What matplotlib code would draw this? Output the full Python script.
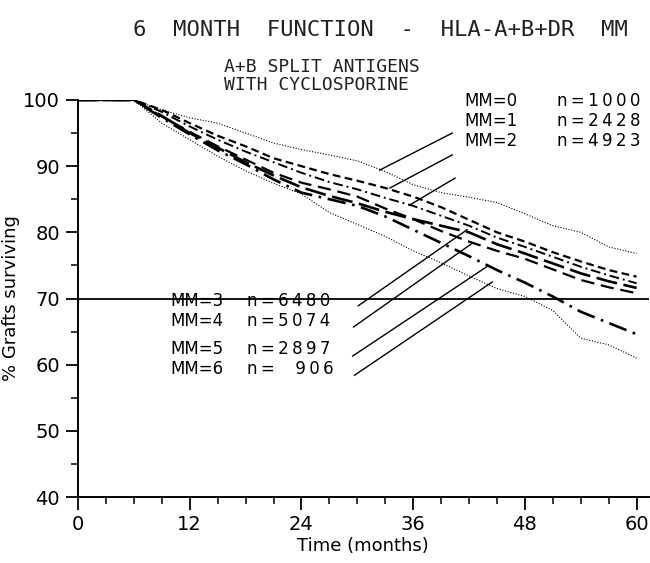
import matplotlib
matplotlib.use("Agg")
import matplotlib.pyplot as plt
import numpy as np

months = [0, 6, 9, 12, 15, 18, 21, 24, 27, 30, 33, 36, 39, 42, 45, 48, 51, 54, 57, 60]

# % grafts surviving, one list per number of HLA mismatches
mm0 = [100, 100, 98.5, 97.3, 96.5, 95.0, 93.5, 92.5, 91.7, 90.8, 89.2, 87.2, 86.0, 85.3, 84.5, 82.8, 81.0, 80.0, 77.8, 76.8]
mm1 = [100, 100, 98.5, 96.5, 94.6, 93.0, 91.2, 90.0, 88.8, 87.8, 86.7, 85.4, 83.8, 81.9, 80.0, 78.6, 77.0, 75.6, 74.3, 73.3]
mm2 = [100, 100, 98.2, 96.0, 94.0, 92.2, 90.6, 89.0, 87.6, 86.5, 85.2, 84.0, 82.5, 81.0, 79.2, 77.8, 76.3, 74.8, 73.5, 72.3]
mm3 = [100, 100, 97.6, 95.0, 92.8, 90.6, 88.6, 86.8, 85.5, 84.4, 83.1, 82.0, 81.0, 80.0, 78.2, 76.8, 75.3, 73.8, 72.6, 71.6]
mm4 = [100, 100, 97.5, 95.2, 93.0, 91.0, 89.0, 87.5, 86.5, 85.4, 83.6, 82.0, 80.2, 78.6, 77.2, 76.0, 74.4, 72.8, 71.7, 70.8]
mm5 = [100, 100, 97.3, 94.8, 92.4, 90.3, 88.0, 86.0, 85.0, 84.0, 82.4, 80.4, 78.4, 76.4, 74.3, 72.4, 70.3, 68.0, 66.3, 64.6]
mm6 = [100, 100, 96.5, 94.0, 91.5, 89.3, 87.4, 85.8, 83.0, 81.2, 79.4, 77.2, 75.4, 73.4, 71.5, 70.3, 68.2, 64.0, 63.0, 61.0]

labels = ["MM=0", "MM=1", "MM=2", "MM=3", "MM=4", "MM=5", "MM=6"]
counts = ["1000", "2428", "4923", "6480", "5074", "2897", "  906"]
curves = [mm0, mm1, mm2, mm3, mm4, mm5, mm6]

styles = [
    dict(ls=(0, (1, 1.5)), lw=0.8),
    dict(ls=(0, (3.5, 2)), lw=1.6),
    dict(ls=(0, (5, 2, 1, 2)), lw=1.4),
    dict(ls=(0, (8, 2.5)), lw=1.9),
    dict(ls=(0, (6, 3)), lw=1.6),
    dict(ls=(0, (7, 2.5, 1, 2.5)), lw=1.9),
    dict(ls=(0, (1, 1.5)), lw=0.8),
]

# label text position (month, %) and where each pointer line meets its curve
label_pos = [(41.5, 99.8), (41.5, 96.8), (41.5, 93.8), (9.9, 69.6), (9.9, 66.6), (9.9, 62.4), (9.9, 59.4)]
count_x = [51.4, 51.4, 51.4, 18.1, 18.1, 18.1, 18.1]
ptr_start = [(40.2, 95.0), (40.2, 91.7), (40.5, 88.2), (30.1, 68.9), (29.6, 65.7), (29.5, 61.3), (29.7, 58.4)]
ptr_end = [(32.4, 89.4), (33.5, 86.7), (35.6, 84.1), (41.8, 80.4), (42.4, 78.4), (43.9, 74.8), (44.5, 72.5)]

mono_font = ['DejaVu Sans Mono']

fig = plt.figure(figsize=(6.5, 5.63), dpi=100)
ax = fig.add_axes([0.12, 0.1172, 0.878, 0.7052])

for c, st in zip(curves, styles):
    ax.plot(months, c, color='black', **st)

ax.axhline(70, color='black', lw=1.3)

for i in range(len(labels)):
    ax.text(label_pos[i][0], label_pos[i][1], labels[i], fontsize=12, va='center', ha='left')
    ax.text(count_x[i], label_pos[i][1], 'n\u2009=\u2009' + '\u2009'.join(counts[i]),
            fontsize=12, va='center', ha='left')
    ax.plot([ptr_start[i][0], ptr_end[i][0]], [ptr_start[i][1], ptr_end[i][1]], color='black', lw=1.0)

ax.set_xlim(0, 61.3)
ax.set_ylim(40, 100)
ax.spines['top'].set_visible(False)
ax.spines['right'].set_visible(False)
ax.spines['left'].set_linewidth(1.4)
ax.spines['bottom'].set_linewidth(1.4)

ax.set_xticks(np.arange(0, 61, 12))
ax.set_xticks(np.arange(0, 61, 3), minor=True)
ax.set_yticks(np.arange(40, 101, 10))
ax.set_yticks(np.arange(45, 100, 10), minor=True)
ax.tick_params(which='major', direction='out', length=9, width=1.3, labelsize=14, pad=4)
ax.tick_params(which='minor', direction='out', length=5, width=1.1)

ax.set_xlabel('Time (months)', fontsize=13, labelpad=2)
ax.set_ylabel('% Grafts surviving', fontsize=13, labelpad=2)

fig.text(0.585, 0.947, '6  MONTH  FUNCTION  -  HLA-A+B+DR  MM', fontsize=16, family=mono_font,
         ha='center', va='center', color='#222222')
fig.text(0.345, 0.865, 'A+B SPLIT ANTIGENS\nWITH CYCLOSPORINE', fontsize=13, family=mono_font,
         ha='left', va='center', linespacing=1.05, color='#222222')

fig.savefig('out.png', dpi=100)
